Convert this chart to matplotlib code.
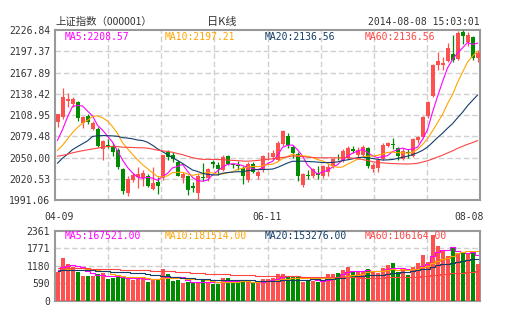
import numpy as np
import matplotlib.pyplot as plt
import matplotlib.transforms as mtransforms

# fechas (dias de negociacion 2014-04-09 .. 2014-08-08)
dates = ['04-09', '04-10', '04-11', '04-14', '04-15', '04-16', '04-17', '04-18', '04-21', '04-22',
         '04-23', '04-24', '04-25', '04-28', '04-29', '04-30',
         '05-05', '05-06', '05-07', '05-08', '05-09', '05-12', '05-13', '05-14', '05-15', '05-16',
         '05-19', '05-20', '05-21', '05-22', '05-23', '05-26', '05-27', '05-28', '05-29', '05-30',
         '06-03', '06-04', '06-05', '06-06', '06-09', '06-10', '06-11', '06-12', '06-13', '06-16',
         '06-17', '06-18', '06-19', '06-20', '06-23', '06-24', '06-25', '06-26', '06-27', '06-30',
         '07-01', '07-02', '07-03', '07-04', '07-07', '07-08', '07-09', '07-10', '07-11', '07-14',
         '07-15', '07-16', '07-17', '07-18', '07-21', '07-22', '07-23', '07-24', '07-25', '07-28',
         '07-29', '07-30', '07-31', '08-01', '08-04', '08-05', '08-06', '08-07', '08-08']

open_ = [2099, 2106, 2128, 2124, 2127, 2098, 2108, 2090, 2089, 2062,
         2068, 2066, 2060, 2034, 2001, 2019,
         2023, 2021, 2024, 2006, 2016, 2021, 2057, 2053, 2044, 2021,
         2024, 2010, 2001, 2023, 2022, 2044, 2040, 2033, 2052, 2041,
         2040, 2036, 2019, 2041, 2024, 2033, 2053, 2051, 2047, 2069,
         2080, 2065, 2055, 2012, 2026, 2024, 2029, 2025, 2030, 2038,
         2051, 2046, 2050, 2062, 2054, 2054, 2063, 2034, 2035, 2048,
         2066, 2069, 2063, 2048, 2058, 2052, 2074, 2079, 2107, 2135,
         2178.5, 2178, 2184, 2194, 2187, 2224, 2210, 2216.7, 2188]
high = [2111, 2146.6, 2140, 2134, 2128, 2108, 2111, 2100, 2092, 2074,
        2075, 2070, 2063, 2036, 2024, 2028,
        2037, 2032, 2027, 2037, 2023, 2054, 2060, 2058, 2046, 2030,
        2026, 2016, 2027, 2042, 2035, 2046, 2044, 2053, 2053, 2043,
        2045, 2038, 2044, 2044, 2032, 2054, 2058, 2060, 2073, 2088,
        2084, 2068, 2057, 2028, 2032, 2036, 2038, 2040, 2041, 2050,
        2055, 2062, 2066, 2066, 2064, 2067, 2065, 2042, 2050, 2070,
        2072, 2077, 2065, 2063, 2062, 2077, 2080, 2108, 2128, 2180,
        2196, 2190, 2209, 2220, 2225, 2226.84, 2224, 2219, 2199.5]
low = [2093, 2104, 2120, 2120, 2100, 2091, 2096, 2088, 2064, 2046,
       2063, 2052, 2034, 1999, 1997, 2016,
       2008, 2010, 2009, 2005, 1999, 2019, 2046, 2044, 2024, 2015,
       1998, 2002, 1991.06, 2017, 2018, 2036, 2026, 2031, 2039, 2035,
       2033, 2013, 2016, 2028, 2020, 2030, 2046, 2046, 2045, 2066,
       2063, 2050, 2018, 2009, 2020, 2022, 2020, 2022, 2024, 2036,
       2046, 2044, 2048, 2056, 2050, 2052, 2036, 2030, 2030, 2046,
       2064, 2062, 2046, 2046, 2050, 2051, 2070, 2077, 2105, 2134,
       2172, 2172, 2183, 2183, 2185, 2207, 2204, 2185, 2183]
close = [2109.8, 2134.3, 2130.5, 2131.5, 2105.1, 2105.8, 2098.9, 2097.8, 2065.6, 2072.4,
         2064, 2057, 2036.5, 2003.5, 2020.3, 2026.4,
         2027.4, 2028.0, 2010.1, 2015.3, 2011.1, 2052.9, 2050.6, 2047.9, 2025.0, 2026.5,
         2005.2, 2007.6, 2025.0, 2021.3, 2034.6, 2041.5, 2034.6, 2051.0, 2040.6, 2039.2,
         2038.3, 2024.4, 2041.5, 2030.5, 2030.0, 2052.5, 2054.1, 2055.7, 2070.7, 2087.3,
         2067.0, 2055.6, 2023.7, 2026.7, 2024.4, 2034.5, 2025.5, 2038.7, 2036.5, 2048.3,
         2050.4, 2059.4, 2063.2, 2059.4, 2061.0, 2064.0, 2038.6, 2039.0, 2047.0, 2067.0,
         2070.8, 2067.0, 2052.0, 2059.1, 2055.6, 2075.5, 2078.9, 2105.8, 2126.6, 2178.0,
         2183.4, 2181.2, 2201.6, 2185.3, 2223.3, 2217.9, 2219.6, 2187.7, 2194.4]
# cierres anteriores (59 dias) para las medias moviles
prev_close = [2061, 2044, 2013, 2009, 2026, 2023, 2023, 2004, 1992, 2008, 2052, 2042, 2055, 2033, 2038, 2049, 2033,
              2044, 2086, 2103, 2110, 2101, 2115, 2135, 2111, 2142, 2127, 2113, 2076, 2034, 2047, 2045, 2056,
              2075, 2071, 2053, 2060, 2057, 1999, 2001, 1997, 2019, 2004, 2023, 2025, 2021, 1974, 2047, 2066,
              2067, 2064, 2046, 2041, 2033,
              2047, 2060, 2043, 2058, 2098]

volume = [978, 1450, 1237, 1147, 978, 831, 831, 831, 900, 944,
          719, 753, 809, 775, 753, 697,
          787, 753, 629, 719, 719, 1080, 900, 663, 686, 584,
          629, 584, 629, 719, 584, 573, 573, 775, 775, 629,
          629, 629, 629, 641, 619, 719, 719, 775, 899, 899,
          809, 809, 831, 641, 663, 663, 619, 697, 899, 899,
          944, 1034, 1146, 955, 978, 978, 1067, 978, 944, 1090,
          1203, 1281, 978, 1034, 866, 1146, 1281, 1540, 1315, 2230,
          1855, 1686, 1506, 1770, 1596, 1596, 1619, 1619, 1240]
prev_volume = [1150, 1080, 1120, 1010, 1060, 1090, 1130, 1040, 980, 1070, 1250, 1160, 1190, 1050, 1000, 1080, 990,
               1020, 1190, 1310, 1280, 1230, 1300, 1380, 1240, 1420, 1280, 1190, 1350, 1220, 1050, 1000, 1030,
               1100, 1060, 1050, 1020, 980, 1120, 980, 950, 970, 930, 940, 960, 920, 1060, 1100, 1180, 1050,
               990, 940, 910, 880,
               940, 1030, 980, 1050, 1200]

price_ticks = [1991.06, 2020.53, 2050.00, 2079.48, 2108.95, 2138.42, 2167.89, 2197.37, 2226.84]
vol_ticks = [0, 590, 1180, 1771, 2361]
date_ticks = ['04-09', '06-11', '08-08']

ma_periods = [5, 10, 20, 60]
ma_colors = ['#ff00ff', '#ffa500', '#123d6a', '#ff4444']
ma_labels = ['MA5:2208.57', 'MA10:2197.21', 'MA20:2136.56', 'MA60:2136.56']
vol_ma_labels = ['MA5:167521.00', 'MA10:181514.00', 'MA20:153276.00', 'MA60:106164.00']

RED = '#ff5050'
GREEN = '#008c00'
GRID = '#d0d0d0'
FRAME = '#999999'
MONO = 'DejaVu Sans Mono'
CJK = ['Noto Sans CJK SC', 'DejaVu Sans']


def moving_avg(prev, vals, n):
    s = np.array(prev + vals, dtype=float)
    ma = np.convolve(s, np.ones(n) / n, mode='valid')
    return ma[-len(vals):]


x = np.arange(len(dates))
o = np.array(open_)
c = np.array(close)
up = c >= o
cols = np.where(up, RED, GREEN)

fig = plt.figure(figsize=(5.05, 3.30), dpi=100)
ax = fig.add_axes([55 / 505, 1 - 200 / 330, 425 / 505, 170 / 330])
axv = fig.add_axes([55 / 505, 1 - 300.7 / 330, 425 / 505, 70 / 330])

# velas
ax.vlines(x, low, high, colors=cols, lw=0.9, zorder=3)
body = np.maximum(np.abs(c - o), 0.6)
ax.bar(x, body, bottom=np.minimum(o, c), width=0.8, color=cols, lw=0, zorder=4)
for n, col in zip(ma_periods, ma_colors):
    ax.plot(x, moving_avg(prev_close, close, n), color=col, lw=0.8, zorder=5)

# volumen
axv.bar(x, volume, width=0.8, color=cols, lw=0, zorder=3)
for n, col in zip(ma_periods, ma_colors):
    axv.plot(x, moving_avg(prev_volume, volume, n), color=col, lw=0.8, zorder=4,
             drawstyle='steps-mid')

vgrid = -0.5 + np.arange(1, 8) * len(dates) / 8
for a, ylim, ticks in [(ax, (price_ticks[0], price_ticks[-1]), price_ticks),
                       (axv, (vol_ticks[0], vol_ticks[-1]), vol_ticks)]:
    a.set_xlim(-0.5, len(dates) - 0.5)
    a.set_ylim(*ylim)
    a.set_yticks(ticks)
    for t in ticks[1:-1]:
        a.axhline(t, color=GRID, lw=1, ls=(0, (4, 2)), zorder=1)
    for v in vgrid:
        a.axvline(v, color=GRID, lw=1, ls=(0, (4, 2)), zorder=1)
    for sp in a.spines.values():
        sp.set_color(FRAME)
        sp.set_linewidth(1.5)
    a.tick_params(length=0, labelsize=7, colors='#333333', pad=3.5)
    for lab in a.get_yticklabels():
        lab.set_fontfamily(MONO)

ax.set_yticklabels(['%.2f' % t for t in price_ticks])
axv.set_yticklabels(['%d' % t for t in vol_ticks])
axv.set_xticks([])

ax.set_xticks([dates.index(d) for d in date_ticks])
ax.set_xticklabels(date_ticks, fontfamily=MONO)
ax.tick_params(axis='x', pad=9)
labs = ax.get_xticklabels()
labs[0].set_transform(labs[0].get_transform() + mtransforms.ScaledTranslation(2 / 100, 0, fig.dpi_scale_trans))
labs[-1].set_transform(labs[-1].get_transform() + mtransforms.ScaledTranslation(-8 / 100, 0, fig.dpi_scale_trans))

# textos superiores
fig.text(55 / 505, 1 - 22 / 330, '上证指数（000001）', family=CJK, fontsize=7.5,
         color='#333333', va='center')
fig.text(207 / 505, 1 - 22 / 330, '日K线', family=CJK, fontsize=8,
         color='#333333', va='center')
fig.text(480 / 505, 1 - 22 / 330, '2014-08-08 15:03:01', family=MONO, fontsize=7,
         color='#333333', va='center', ha='right')

for i, (lab, vlab, col) in enumerate(zip(ma_labels, vol_ma_labels, ma_colors)):
    fig.text((65 + 100 * i) / 505, 1 - 37 / 330, lab, family=MONO, fontsize=7,
             color=col, va='center')
    fig.text((65 + 100 * i) / 505, 1 - 236 / 330, vlab, family=MONO, fontsize=7,
             color=col, va='center')

fig.savefig('out.png', dpi=100)
